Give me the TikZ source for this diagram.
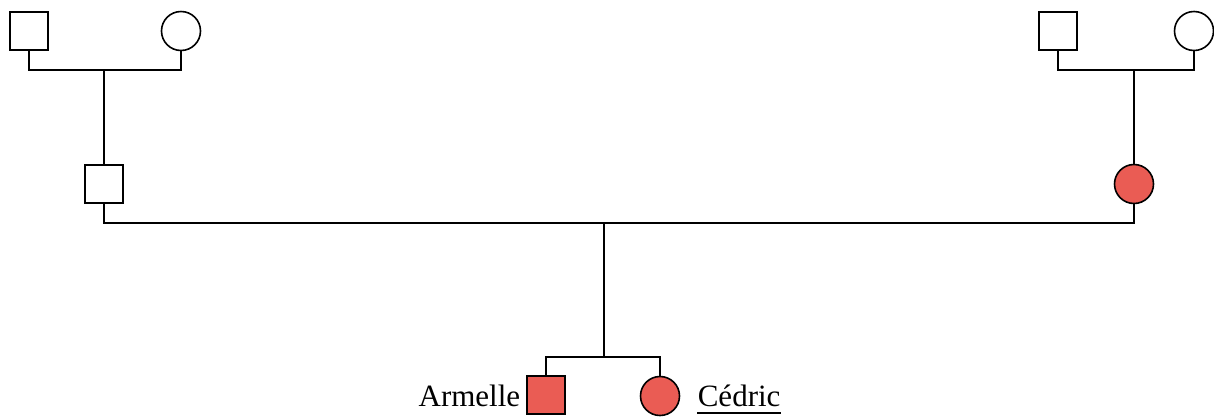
\documentclass[tikz,border=0pt]{standalone}
\usepackage{fontspec}
\setmainfont{Liberation Serif}
\definecolor{aff}{RGB}{234,92,84}
\begin{document}
\begin{tikzpicture}[x=1pt,y=-1pt,
  line width=1.6pt,
  male/.style={draw, minimum size=38pt, inner sep=0pt, outer sep=0pt},
  female/.style={draw, circle, minimum size=39pt, inner sep=0pt, outer sep=0pt},
  affected/.style={fill=aff},
  lbl/.style={font=\fontsize{31}{36}\selectfont, inner sep=0pt}]
\useasboundingbox (0,0) rectangle (1214,416);
% generation I
\node[male] (m1) at (29,31) {};
\node[female] (f1) at (181,31) {};
\node[male] (m2) at (1058,31) {};
\node[female] (f2) at (1194,31) {};
% generation II
\node[male] (m3) at (104,184) {};
\node[female,affected] (f3) at (1134,184) {};
% generation III
\node[male,affected] (arm) at (546,395) {};
\node[female,affected] (ced) at (660,396) {};
\node[lbl, anchor=base east] (tarm) at (521,406) {Armelle};
\node[lbl, anchor=base west] (tced) at (697,406) {Cédric};
\draw[line width=1.2pt] ([yshift=-7pt]tced.base west) -- ([yshift=-7pt]tced.base east);
% couple 1
\coordinate (c1l) at (29,70);
\coordinate (c1r) at (181,70);
\coordinate (c1m) at (104,70);
\draw (m1.south) -- (c1l) -- (c1r) -- (f1.south);
\draw (c1m) -- (m3.north);
% couple 2
\coordinate (c2l) at (1058,70);
\coordinate (c2r) at (1194,70);
\coordinate (c2m) at (1134,70);
\draw (m2.south) -- (c2l) -- (c2r) -- (f2.south);
\draw (c2m) -- (f3.north);
% couple 3
\coordinate (c3l) at (104,223);
\coordinate (c3r) at (1134,223);
\coordinate (c3m) at (604,223);
\coordinate (sib) at (604,357);
\coordinate (sibl) at (546,357);
\coordinate (sibr) at (660,357);
\draw (m3.south) -- (c3l) -- (c3r) -- (f3.south);
\draw (c3m) -- (sib);
\draw (arm.north) -- (sibl) -- (sibr) -- (ced.north);
\end{tikzpicture}
\end{document}
